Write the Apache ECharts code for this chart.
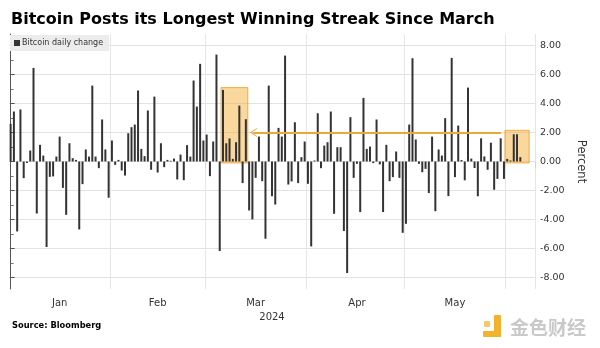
<!DOCTYPE html>
<html><head><meta charset="utf-8">
<script src="https://cdn.jsdelivr.net/npm/echarts@6/dist/echarts.min.js"></script>
<style>html,body{margin:0;padding:0;background:#fff}#c{width:600px;height:348px}</style>
</head><body><div id="c"></div>
<script>
const titleText = 'Bitcoin Posts its Longest Winning Streak Since March';
const seriesName = 'Bitcoin daily change';
const sourceText = 'Source: Bloomberg';
const yearLabel = '2024';
const monthNames = ['Jan','Feb','Mar','Apr','May','Jun'];
const firstDay = [2024, 0, 1];
const dayCount = 161; // Jan 1 .. Jun 9, 2024
const yTickValues = [-8, -6, -4, -2, 0, 2, 4, 6, 8];

// daily % change, Jan 1 2024 onward
const dailyChange = [
  2.6, 3.45, -4.83, 3.59, -1.15, -0.1, 0.76, 6.46, -3.59, 1.15,
  0.41, -5.9, -1.06, -1.03, 0.34, 1.72, -1.82, -3.68, 1.26, 0.23,
  0.11, -4.69, -1.56, 0.83, 0.34, 5.24, 0.34, -0.46, 2.9, 0.83,
  -2.5, 1.45, -0.23, 0.11, -0.62, -0.97, 1.95, 2.37, 2.55, 4.9,
  0.87, 0.37, 3.52, -0.57, 4.48, -0.76, 1.26, -0.39, 0.11, 0.05,
  0.2, -1.24, 0.48, -1.29, 1.13, 0.34, 5.59, 3.79, 6.74, 1.45,
  1.86, -1.01, 1.38, 7.38, -6.18, 4.94, 1.26, 1.59, 0.18, 1.33,
  3.86, -1.49, 2.92, -3.38, -4.0, -1.13, 1.72, -1.36, -5.33, 5.24,
  -2.39, -2.97, 2.32, 1.72, 7.31, -1.59, -1.38, 2.71, -1.49, 0.3,
  1.38, -1.54, -5.86, 0.07, 3.33, -0.46, 1.1, 1.33, 3.45, -3.61,
  0.99, 0.99, -4.8, -7.7, 3.06, -1.13, -0.16, -3.49, 4.39, 0.87,
  1.03, -0.11, 2.9, -0.2, -3.49, 1.15, -1.36, -1.08, 0.69, -1.13,
  -4.92, -4.3, 2.55, 7.13, 1.52, -0.16, -0.74, -0.51, -2.18, 1.72,
  -3.43, 0.83, 0.41, 2.99, -2.39, 7.15, -1.08, 2.48, 0.1, -1.3,
  5.1, 0.2, -0.45, -2.4, 1.6, 0.35, -0.57, 1.3, -1.95, -1.2,
  1.6, -1.2, 0.18, 0.07, 1.88, 1.88, 0.3
];

// highlight boxes in day-index units: [from, to, top, bottom]
const streakBoxes = [[64.4, 72.6, 5.1, -0.1], [151.3, 158.7, 2.15, -0.1]];
// arrow: [fromIndex, toIndex, level]
const arrowSpec = [150.1, 74.3, 2.0];

function dayDate(i) { return new Date(firstDay[0], firstDay[1], firstDay[2] + i); }
function pad(n) { return (n < 10 ? '0' : '') + n; }
const categories = [];
for (let i = 0; i < dayCount; i++) {
  const d = dayDate(i);
  categories.push(d.getFullYear() + '-' + pad(d.getMonth() + 1) + '-' + pad(d.getDate()));
}
function isMonthStart(i) { return i > 0 && dayDate(i).getDate() === 1; }
function isMidMonth(i) {
  const d = dayDate(i);
  const dim = new Date(d.getFullYear(), d.getMonth() + 1, 0).getDate();
  return d.getDate() === Math.floor(dim / 2) + 1 && d.getMonth() < 5;
}

const chart = echarts.init(document.getElementById('c'), null, {renderer: 'canvas'});
const FONT = 'DejaVu Sans';
const arrowPath = 'path://M0,0 L6,9 L4.6,9 L0,2.4 L-4.6,9 L-6,9 Z';

chart.setOption({
  animation: false,
  backgroundColor: '#ffffff',
  textStyle: {fontFamily: FONT},
  title: {
    text: titleText, left: 6, top: 7,
    textStyle: {fontFamily: FONT, fontSize: 16, fontWeight: 'bold', color: '#000'}
  },
  legend: {
    data: [seriesName], left: 10, top: 35,
    backgroundColor: '#ececec', padding: [4, 6, 4, 4],
    icon: 'rect', itemWidth: 6, itemHeight: 6, itemGap: 2,
    textStyle: {fontFamily: FONT, fontSize: 8, color: '#333', padding: [0, 0, 0, -3]}
  },
  grid: {left: 9, right: 65, top: 34, bottom: 59},
  xAxis: [{
    type: 'category', data: categories, boundaryGap: true,
    name: yearLabel, nameLocation: 'middle', nameGap: 19,
    nameTextStyle: {fontFamily: FONT, fontSize: 10, color: '#333'},
    axisLine: {show: false},
    axisTick: {show: true, alignWithLabel: false, interval: (i) => isMonthStart(i), length: 7, lineStyle: {color: '#d6d6d6'}},
    axisLabel: {interval: (i) => isMidMonth(i), formatter: (v) => monthNames[parseInt(v.slice(5, 7), 10) - 1], margin: 9, fontFamily: FONT, fontSize: 10, color: '#333'},
    splitLine: {show: true, interval: (i) => isMonthStart(i), lineStyle: {color: '#e6e6e6', width: 1}}
  }, {
    type: 'value', min: -0.5, max: dayCount - 0.5, show: false
  }],
  yAxis: {
    type: 'value', position: 'right', min: -8.8, max: 8.8, splitNumber: 9,
    name: 'Percent', nameLocation: 'middle', nameRotate: -90, nameGap: 34,
    nameTextStyle: {fontFamily: FONT, fontSize: 11.5, color: '#333'},
    axisLine: {show: true, lineStyle: {color: '#555'}},
    axisTick: {show: true, length: 4, customValues: yTickValues, lineStyle: {color: '#555'}},
    minorTick: {show: true, splitNumber: 2, length: 3, lineStyle: {color: '#777'}},
    axisLabel: {customValues: yTickValues, formatter: (v) => v.toFixed(2), margin: 5, fontFamily: FONT, fontSize: 9.5, color: '#333'},
    splitLine: {show: true, lineStyle: {color: '#e2e2e2'}}
  },
  series: [{
    name: seriesName, type: 'bar', data: dailyChange, barWidth: 2, z: 2,
    itemStyle: {color: '#333333'}, silent: true
  }, {
    name: 'annotations', type: 'line', xAxisIndex: 1, data: [], z: 6, silent: true,
    markArea: {
      silent: true,
      itemStyle: {color: 'rgba(245,166,35,0.45)', borderColor: 'rgba(238,160,50,0.85)', borderWidth: 1},
      data: streakBoxes.map(b => [{coord: [b[0], b[2]]}, {coord: [b[1], b[3]]}])
    },
    markLine: {
      silent: true, symbol: ['none', arrowPath], symbolSize: [9, 7],
      label: {show: false},
      lineStyle: {color: '#e8a83a', width: 2, type: 'solid'},
      data: [[{coord: [arrowSpec[0], arrowSpec[2]]}, {coord: [arrowSpec[1], arrowSpec[2]]}]]
    }
  }],
  graphic: [
    {type: 'text', left: 12, top: 322, style: {text: sourceText, font: 'bold 8.3px "DejaVu Sans"', fill: '#000'}},
    {type: 'rect', shape: {x: 494, y: 315, width: 7, height: 22, r: 1}, style: {fill: '#f3b12e'}},
    {type: 'rect', shape: {x: 483, y: 331, width: 18, height: 6, r: 1}, style: {fill: '#f3b12e'}},
    {type: 'rect', shape: {x: 484, y: 321, width: 6, height: 6, r: 1}, style: {fill: '#f7c86a'}},
    {type: 'text', left: 510, top: 318, style: {text: '金色财经', font: 'bold 19px "Noto Sans CJK SC"', fill: '#c9c9c9'}}
  ]
});
</script>
</body></html>
